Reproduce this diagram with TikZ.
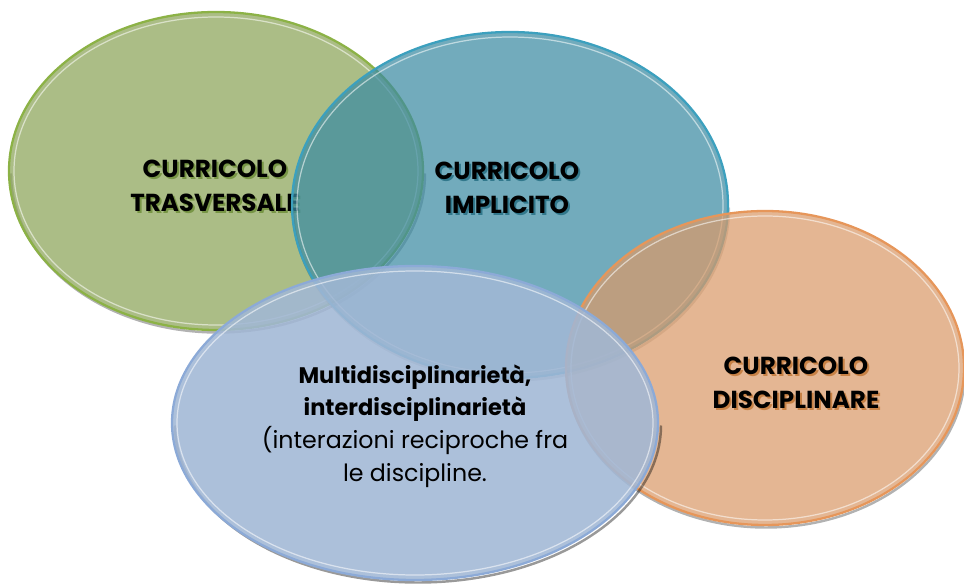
\documentclass[tikz,border=0pt]{standalone}
\usepackage{fontspec}
\setmainfont{Poppins}
\usetikzlibrary{shapes.geometric,positioning}

\definecolor{verde}{RGB}{139,164,88}
\definecolor{verdebordo}{RGB}{140,178,70}
\definecolor{verdeombra}{RGB}{120,150,70}
\definecolor{turchese}{RGB}{59,139,162}
\definecolor{turchesebordo}{RGB}{60,160,190}
\definecolor{turcheseombra}{RGB}{50,120,140}
\definecolor{arancio}{RGB}{217,154,105}
\definecolor{aranciobordo}{RGB}{230,150,90}
\definecolor{arancioombra}{RGB}{200,130,70}
\definecolor{azzurro}{RGB}{161,183,213}
\definecolor{azzurrobordo}{RGB}{140,170,215}

\tikzstyle{bolla} = [ellipse, inner sep=0pt, fill opacity=0.72, line width=1.3pt]
\tikzstyle{bordino} = [draw=black, draw opacity=0.3, line width=1.4pt]
\tikzstyle{luce} = [draw=white, draw opacity=0.55, line width=0.7pt]
\tikzstyle{titolo} = [align=center, inner sep=0pt, font=\bfseries\fontsize{14}{19}\selectfont]
\tikzstyle{testo} = [align=center, inner sep=0pt, font=\fontsize{13.5}{18.5}\selectfont]

\begin{document}
\begin{tikzpicture}
	\useasboundingbox (0,0) rectangle (19.28,11.66);
	
	% curricolo trasversale
	\draw [bordino] (0.22,8.19) arc (180:360:4.14 and 3.18);
	\node [bolla, fill=verde, draw=verdebordo, minimum width=8.28cm, minimum height=6.36cm] (g) at (4.32,8.24) {};
	\draw [luce] (g.center) ellipse (4.04 and 3.08);
	\node [titolo, text=verdeombra] (g-ombra) at (4.34,7.90) {CURRICOLO\\TRASVERSALE};
	\node [titolo] (g-testo) at (4.30,7.94) {CURRICOLO\\TRASVERSALE};
	
	% curricolo implicito
	\draw [bordino, draw opacity=0.2] (5.86,7.51) arc (180:360:4.36 and 3.46);
	\node [bolla, fill=turchese, draw=turchesebordo, minimum width=8.72cm, minimum height=6.92cm] (t) at (10.2,7.56) {};
	\draw [luce] (t.center) ellipse (4.26 and 3.36);
	\node [titolo, text=turcheseombra] (t-ombra) at (10.18,7.86) {CURRICOLO\\IMPLICITO};
	\node [titolo] (t-testo) at (10.14,7.90) {CURRICOLO\\IMPLICITO};
	
	% curricolo disciplinare
	\draw [bordino] (11.34,4.25) arc (180:360:3.98 and 3.14);
	\node [bolla, fill=arancio, draw=aranciobordo, minimum width=7.96cm, minimum height=6.28cm] (o) at (15.30,4.30) {};
	\draw [luce] (o.center) ellipse (3.88 and 3.04);
	\node [titolo, text=arancioombra] (o-ombra) at (15.96,3.96) {CURRICOLO\\DISCIPLINARE};
	\node [titolo] (o-testo) at (15.92,4.00) {CURRICOLO\\DISCIPLINARE};
	
	% multi e interdisciplinarita
	\draw [bordino, draw opacity=0.4] (3.50,3.15) arc (180:360:4.86 and 3.14);
	\node [bolla, fill=azzurro, fill opacity=0.88, draw=azzurrobordo, minimum width=9.72cm, minimum height=6.28cm] (b) at (8.30,3.20) {};
	\draw [luce] (b.center) ellipse (4.76 and 3.04);
	\node [testo] (b-testo) at (8.30,3.14) {\textbf{\fontsize{12.8}{18.5}\selectfont Multidisciplinarietà,}\\\textbf{\fontsize{12.8}{18.5}\selectfont interdisciplinarietà}\\(interazioni reciproche fra\\le discipline.};
	
\end{tikzpicture}
\end{document}
